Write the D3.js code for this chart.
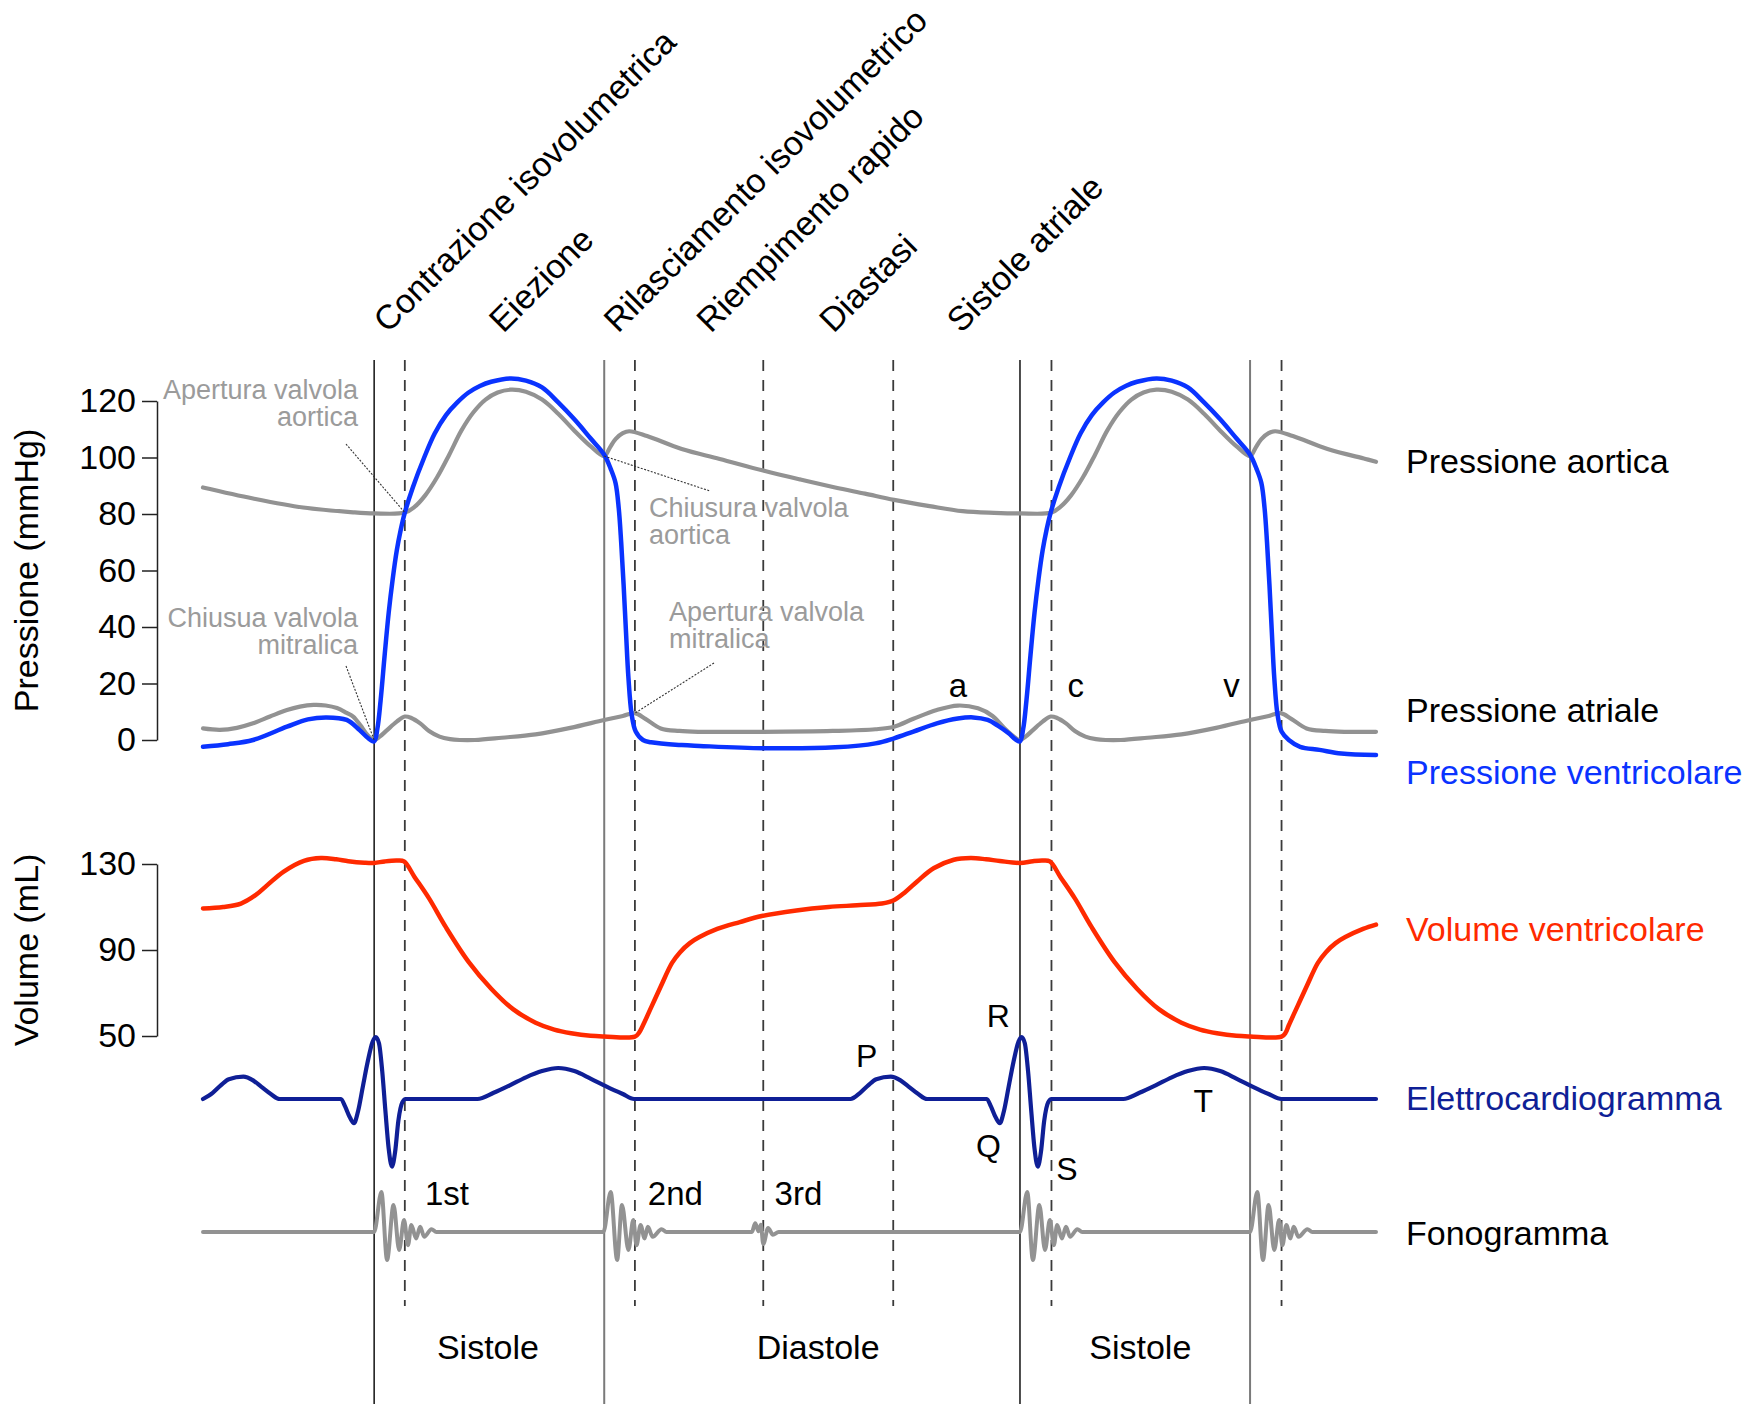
<!DOCTYPE html>
<html>
<head>
<meta charset="utf-8">
<script src="https://cdn.jsdelivr.net/npm/d3@7"></script>
<style>
  body { margin: 0; background: #fff; }
  svg text { font-family: "Liberation Sans", Arial, Helvetica, sans-serif; }
</style>
</head>
<body>
<div id="wiggers"></div>
<script>
// ---- data (time in ms from start of trace) ----
const mitralClose = [212, 1012];           // solid black lines
const aorticClose = [497, 1297];           // solid grey lines
const dashedT = [250, 535, 694, 855, 1051, 1336];

const phaseNames = ["Contrazione isovolumetrica", "Eiezione", "Rilasciamento isovolumetrico",
                    "Riempimento rapido", "Diastasi", "Sistole atriale"];
const phaseLabelT = [229, 372, 514, 629, 781, 939];

const cycleNames = ["Sistole", "Diastole", "Sistole"];
const cycleLabelT = [353, 762, 1161];

const pressureTicks = [0, 20, 40, 60, 80, 100, 120];
const volumeTicks = [50, 90, 130];

// aortic pressure (mmHg)
const aortic = [[0,89.4],[62,85.5],[124,82.3],[186,80.6],[212,80.2],[250,80.5],[262,82.5],[275,86.5],[290,93],
  [305,101],[320,109.5],[335,116],[350,120.5],[365,123],[381,124],[400,123.3],[420,120.5],[440,115.5],[460,109.5],
  [480,104],[497,100.5],[504,103.5],[511,106.5],[520,108.6],[528,109.3],[550,107.6],[593,103],[640,99.5],
  [695,95.3],[740,92.2],[783,89.4],[820,87.2],[856,85],[900,82.8],[941,81],[980,80.4],[1012,80.2],[1051,80.5],
  [1062,82.5],[1075,86.5],[1090,93],[1105,101],[1120,109.5],[1135,116],[1150,120.5],[1165,123],[1181,124],
  [1200,123.3],[1220,120.5],[1240,115.5],[1260,109.5],[1280,104],[1297,100.5],[1304,103.5],[1311,106.5],
  [1320,108.6],[1328,109.3],[1350,107.6],[1393,103],[1440,99.5],[1453,98.5]];

// atrial pressure (mmHg)
const atrial = [[0,4.1],[21,3.6],[42,4.3],[62,5.9],[83,8.3],[104,10.6],[120,11.8],[137,12.4],[152,12.2],
  [166,11.3],[178,9.6],[186,8.3],[195,5.2],[202,2.4],[208,0.6],[212,0],[219,1.2],[228,3.5],[240,6.5],[250,8.3],
  [258,7.8],[269,5.9],[280,3.2],[293,1.2],[306,0.3],[318,0],[337,0],[370,0.8],[412,2.0],[455,4.3],[497,7.1],
  [520,8.5],[535,9.5],[548,7.5],[567,4.1],[590,3.2],[615,2.9],[694,2.9],[780,3.2],[833,3.8],[856,4.7],[880,7.5],
  [909,10.6],[935,12.2],[960,11.2],[978,8.5],[991,4.7],[1003,1.5],[1012,0],[1019,1.2],[1028,3.5],[1040,6.5],
  [1050,8.3],[1058,7.8],[1069,5.9],[1080,3.2],[1093,1.2],[1106,0.3],[1118,0],[1137,0],[1170,0.8],[1212,2.0],
  [1255,4.3],[1297,7.1],[1320,8.5],[1335,9.5],[1348,7.5],[1367,4.1],[1390,3.2],[1415,2.9],[1453,2.9]];

// ventricular pressure (mmHg)
const ventricular = [[0,-2.4],[31,-1.5],[62,0],[104,4.7],[130,7.3],[153,8.0],[178,7.1],[194,3.5],[204,0.8],
  [212,-0.5],[216,4],[220,14],[225,30],[230,45],[235,57],[240,67],[245,74.5],[250,80.5],[260,89.5],[274,100],
  [287,108.5],[301,115],[315,119.5],[329,123],[343,125.3],[357,126.8],[381,128],[400,127.2],[420,124.8],
  [440,119.5],[460,113.5],[480,106.8],[497,101],[505,96],[511,91],[515,82],[518,70],[521,55],[524,38],[527,22],
  [531,9],[536,3],[545,0],[555,-0.8],[593,-1.8],[615,-2.1],[694,-2.9],[783,-2.6],[833,-1.2],[856,0.6],[880,3],
  [909,5.9],[935,7.6],[954,8.0],[972,7.1],[985,5],[998,2.4],[1006,0.3],[1012,-0.5],[1016,4],[1020,14],[1025,30],
  [1030,45],[1035,57],[1040,67],[1045,74.5],[1050,80.5],[1060,89.5],[1074,100],[1087,108.5],[1101,115],
  [1115,119.5],[1129,123],[1143,125.3],[1157,126.8],[1181,128],[1200,127.2],[1220,124.8],[1240,119.5],
  [1260,113.5],[1280,106.8],[1297,101],[1305,96],[1311,91],[1315,82],[1318,70],[1321,55],[1324,38],[1327,22],
  [1331,9],[1336,3],[1345,0],[1359,-2.4],[1383,-3.5],[1410,-4.8],[1453,-5.3]];

// ventricular volume (mL)
const volume = [[0,109.3],[25,110],[47,111.6],[65,115.5],[80,120.3],[100,126.5],[125,131.5],[146,132.8],
  [165,132.2],[180,131.3],[200,130.6],[212,130.5],[225,131.2],[240,131.6],[249,131.2],[262,124],[280,114],
  [301,100.5],[329,84.5],[357,72],[384,62.5],[412,56.2],[435,53],[456,51.3],[480,50.1],[497,49.8],[535,49.7],
  [540,51.5],[545,55],[556,64],[567,73],[581,84],[591,89],[603,93.2],[615,96],[637,99.8],[665,103],[692,105.8],
  [735,108.4],[775,110],[810,110.8],[841,111.6],[855,113],[870,117],[885,122],[905,128],[930,132],[951,132.8],
  [970,132.2],[987,131.4],[1012,130.5],[1028,131.3],[1040,131.6],[1049,131.2],[1062,124],[1080,114],
  [1101,100.5],[1129,84.5],[1157,72],[1184,62.5],[1212,56.2],[1235,53],[1256,51.3],[1280,50.1],[1297,49.8],
  [1336,49.7],[1341,51.5],[1345,55],[1356,64],[1367,73],[1381,84],[1391,89],[1403,93.2],[1415,96],[1437,99.8],
  [1453,101.8]];

// ECG (mV)
const ecg = [[0,0],[12,0.1],[22,0.22],[32,0.32],[50,0.36],[62,0.3],[72,0.2],[84,0.08],[95,0],[171,0],
  [176,-0.12],[182,-0.3],[187,-0.39],[192,-0.2],[198,0.2],[204,0.6],[210,0.92],[214,1.0],[218,0.9],[222,0.45],
  [226,-0.2],[230,-0.8],[234,-1.09],[238,-0.85],[242,-0.35],[247,-0.05],[251,0],[340,0],[360,0.1],[380,0.22],
  [400,0.35],[420,0.45],[440,0.5],[460,0.45],[480,0.33],[500,0.2],[520,0.08],[534,0],[802,0],[814,0.1],
  [824,0.22],[834,0.32],[852,0.36],[864,0.3],[874,0.2],[886,0.08],[897,0],[971,0],[976,-0.12],[982,-0.3],
  [987,-0.39],[992,-0.2],[998,0.2],[1004,0.6],[1010,0.92],[1014,1.0],[1018,0.9],[1022,0.45],[1026,-0.2],
  [1030,-0.8],[1034,-1.09],[1038,-0.85],[1042,-0.35],[1047,-0.05],[1051,0],[1140,0],[1160,0.1],[1180,0.22],
  [1200,0.35],[1220,0.45],[1240,0.5],[1260,0.45],[1280,0.33],[1300,0.2],[1320,0.08],[1336,0],[1453,0]];

// phonocardiogram (relative amplitude)
const phono = [[0,0],[212,0],[221,1.0],[228,-0.7],[236,0.675],[243,-0.45],[249,0.3],[254,-0.33],[258,0.175],
  [264,-0.16],[269,0.13],[274,-0.12],[283,0.07],[289,0],[496,0],[505,1.0],[513,-0.7],[519,0.675],[527,-0.45],
  [533,0.3],[537,-0.33],[542,0.175],[547,-0.16],[551,0.13],[557,-0.12],[568,0.07],[574,0],[680,0],[684,0.22],
  [688,0.02],[691,0.18],[694,-0.3],[700,0.1],[706,-0.07],[713,0],[1012,0],[1021,1.0],[1028,-0.7],[1036,0.675],
  [1043,-0.45],[1049,0.3],[1054,-0.33],[1058,0.175],[1064,-0.16],[1069,0.13],[1074,-0.12],[1083,0.07],[1089,0],
  [1297,0],[1306,1.0],[1313,-0.7],[1320,0.675],[1327,-0.45],[1333,0.3],[1337,-0.33],[1342,0.175],[1347,-0.16],
  [1351,0.13],[1357,-0.12],[1368,0.07],[1374,0],[1453,0]];

// ---- layout ----
const width = 1750, height = 1404;
const grey = "#929292", blue = "#0a33ff", red = "#ff2a00", navy = "#0f1f96";
const annoGrey = "#9b9b9b";

const svg = d3.select("#wiggers").append("svg")
    .attr("width", width)
    .attr("height", height)
    .style("background", "#fff");

const x = d3.scaleLinear().domain([0, 1453]).range([203, 1376]);
const yP = d3.scaleLinear().domain([0, 120]).range([740, 401]);
const yV = d3.scaleLinear().domain([50, 130]).range([1036, 864]);
const yE = d3.scaleLinear().domain([-1, 1]).range([1161, 1037]);
const yF = d3.scaleLinear().domain([-1, 1]).range([1272, 1192]);

// vertical event lines
svg.append("g").selectAll("line")
  .data(mitralClose)
  .join("line")
    .attr("x1", d => x(d)).attr("x2", d => x(d))
    .attr("y1", 360).attr("y2", height)
    .attr("stroke", "#111").attr("stroke-width", 1.5);

svg.append("g").selectAll("line")
  .data(aorticClose)
  .join("line")
    .attr("x1", d => x(d)).attr("x2", d => x(d))
    .attr("y1", 360).attr("y2", height)
    .attr("stroke", "#7a7a7a").attr("stroke-width", 2);

svg.append("g").selectAll("line")
  .data(dashedT)
  .join("line")
    .attr("x1", d => x(d)).attr("x2", d => x(d))
    .attr("y1", 360).attr("y2", 1306)
    .attr("stroke", "#3a3a3a").attr("stroke-width", 1.8)
    .attr("stroke-dasharray", "11,9");

// axes
function styleAxis(g) {
  g.attr("font-size", 34)
   .attr("font-family", "'Liberation Sans', Arial, Helvetica, sans-serif");
  g.selectAll("path.domain").attr("stroke", "#222").attr("stroke-width", 1.5);
  g.selectAll(".tick line").attr("stroke", "#222").attr("stroke-width", 1.5);
  g.selectAll(".tick text").attr("fill", "#000");
}

svg.append("g")
    .attr("transform", "translate(157,0)")
    .call(d3.axisLeft(yP).tickValues(pressureTicks).tickSize(15).tickSizeOuter(0).tickPadding(6))
    .call(styleAxis);

svg.append("g")
    .attr("transform", "translate(157,0)")
    .call(d3.axisLeft(yV).tickValues(volumeTicks).tickSize(15).tickSizeOuter(0).tickPadding(6))
    .call(styleAxis);

svg.append("text")
    .attr("transform", `translate(38,${(yP(0) + yP(120)) / 2}) rotate(-90)`)
    .attr("text-anchor", "middle")
    .attr("font-size", 34)
    .text("Pressione (mmHg)");

svg.append("text")
    .attr("transform", `translate(38,${(yV(50) + yV(130)) / 2}) rotate(-90)`)
    .attr("text-anchor", "middle")
    .attr("font-size", 34)
    .text("Volume (mL)");

// curves
function drawLine(data, yScale, color, w, curve) {
  svg.append("path")
    .datum(data)
    .attr("fill", "none")
    .attr("stroke", color)
    .attr("stroke-width", w)
    .attr("stroke-linejoin", "round")
    .attr("stroke-linecap", "round")
    .attr("d", d3.line()
      .curve(curve)
      .x(d => x(d[0]))
      .y(d => yScale(d[1])));
}

const smooth = d3.curveCatmullRom.alpha(0.5);
drawLine(aortic, yP, grey, 4.2, smooth);
drawLine(atrial, yP, grey, 4.2, smooth);
drawLine(ventricular, yP, blue, 4.5, smooth);
drawLine(volume, yV, red, 4.5, smooth);
drawLine(ecg, yE, navy, 4.2, d3.curveMonotoneX);
drawLine(phono, yF, grey, 4, d3.curveMonotoneX);

// leader lines for valve annotations
const leaders = [
  [[346, 444], [x(250), yP(80.5)]],
  [[346, 666], [x(212), yP(0)]],
  [[x(497), yP(100.5)], [710, 491]],
  [[714, 663], [x(535), yP(9.5)]]
];
svg.append("g").selectAll("line")
  .data(leaders)
  .join("line")
    .attr("x1", d => d[0][0]).attr("y1", d => d[0][1])
    .attr("x2", d => d[1][0]).attr("y2", d => d[1][1])
    .attr("stroke", "#333").attr("stroke-width", 1.1)
    .attr("stroke-dasharray", "2,1.5");

// grey valve annotations
const valveNotes = [
  {lines: ["Apertura valvola", "aortica"], x: 358, y: 399, anchor: "end"},
  {lines: ["Chiusua valvola", "mitralica"], x: 358, y: 627, anchor: "end"},
  {lines: ["Chiusura valvola", "aortica"], x: 649, y: 517, anchor: "start"},
  {lines: ["Apertura valvola", "mitralica"], x: 669, y: 621, anchor: "start"}
];
valveNotes.forEach(n => {
  const t = svg.append("text")
      .attr("x", n.x).attr("y", n.y)
      .attr("text-anchor", n.anchor)
      .attr("font-size", 27)
      .attr("fill", annoGrey);
  n.lines.forEach((l, i) => {
    t.append("tspan").attr("x", n.x).attr("dy", i === 0 ? 0 : 26.5).text(l);
  });
});

// rotated phase labels
svg.append("g").selectAll("text")
  .data(phaseNames)
  .join("text")
    .attr("transform", (d, i) => `translate(${x(phaseLabelT[i])},334) rotate(-45)`)
    .attr("font-size", 34)
    .text(d => d);

// systole / diastole labels
svg.append("g").selectAll("text")
  .data(cycleNames)
  .join("text")
    .attr("x", (d, i) => x(cycleLabelT[i]))
    .attr("y", 1359)
    .attr("text-anchor", "middle")
    .attr("font-size", 34)
    .text(d => d);

// right-hand series labels
const seriesLabels = [
  {text: "Pressione aortica", y: 473, color: "#000"},
  {text: "Pressione atriale", y: 722, color: "#000"},
  {text: "Pressione ventricolare", y: 784, color: blue},
  {text: "Volume ventricolare", y: 941, color: red},
  {text: "Elettrocardiogramma", y: 1110, color: navy},
  {text: "Fonogramma", y: 1245, color: "#000"}
];
svg.append("g").selectAll("text")
  .data(seriesLabels)
  .join("text")
    .attr("x", 1406)
    .attr("y", d => d.y)
    .attr("font-size", 34)
    .attr("fill", d => d.color)
    .text(d => d.text);

// atrial waves a, c, v
const atrialWaves = [["a", 935], ["c", 1081], ["v", 1274]];
svg.append("g").selectAll("text")
  .data(atrialWaves)
  .join("text")
    .attr("x", d => x(d[1]))
    .attr("y", 697)
    .attr("text-anchor", "middle")
    .attr("font-size", 33)
    .text(d => d[0]);

// ECG wave letters
const ecgWaves = [["P", 822, 1067], ["Q", 973, 1157], ["R", 985, 1027], ["S", 1070, 1180], ["T", 1239, 1112]];
svg.append("g").selectAll("text")
  .data(ecgWaves)
  .join("text")
    .attr("x", d => x(d[1]))
    .attr("y", d => d[2])
    .attr("text-anchor", "middle")
    .attr("font-size", 32)
    .text(d => d[0]);

// heart sounds
const sounds = [["1st", 275], ["2nd", 551], ["3rd", 708]];
svg.append("g").selectAll("text")
  .data(sounds)
  .join("text")
    .attr("x", d => x(d[1]))
    .attr("y", 1205)
    .attr("font-size", 33)
    .text(d => d[0]);
</script>
</body>
</html>
